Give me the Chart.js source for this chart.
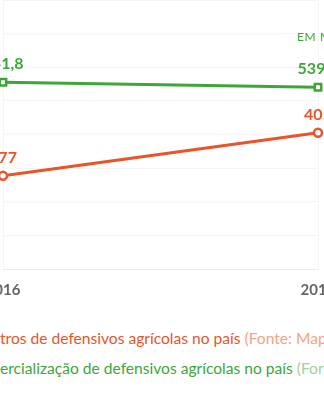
<!DOCTYPE html>
<html>
<head>
<meta charset="utf-8">
<script src="https://cdn.jsdelivr.net/npm/chart.js@4"></script>
<style>
  html, body { margin:0; padding:0; background:#fff; width:324px; height:400px; overflow:hidden; position:relative; }
  #wrap { position:absolute; left:-60px; top:0; width:444px; height:311px; }
  .leg { position:absolute; left:0; white-space:nowrap; font-family:Lato, sans-serif; font-size:15.6px; line-height:18px; }
  .leg .pre { position:absolute; right:100%; top:0; }
  #legReg { top:329px; color:#e8552b; }
  #legReg .src { color:#f4a487; }
  #legCom { top:359px; color:#3da63a; }
  #legCom .src { color:#9ed39a; }
</style>
</head>
<body>
<div id="wrap"><canvas id="c"></canvas></div>
<div class="leg" id="legReg"><span class="pre">Regis</span>tros de defensivos agrícolas no país <span class="src">(Fonte: Mapa)</span></div>
<div class="leg" id="legCom"><span class="pre">Com</span>ercialização de defensivos agrícolas no país <span class="src">(Fonte: Ibama)</span></div>
<script>
const years = ['2016', '2017'];
const registros = [277, 405];
const comercializacao = [541.8, 539.9];
const unitNote = 'EM MIL TONELADAS';

const ORANGE = '#e8552b';
const GREEN = '#3da63a';

function fmt(v) { return String(v).replace('.', ','); }

const valueLabels = {
  id: 'valueLabels',
  afterDatasetsDraw(chart) {
    const ctx = chart.ctx;
    ctx.save();
    ctx.textAlign = 'center';
    ctx.textBaseline = 'middle';
    ctx.font = 'bold 16px Lato, sans-serif';
    chart.data.datasets.forEach((ds, i) => {
      const meta = chart.getDatasetMeta(i);
      ctx.fillStyle = ds.borderColor;
      meta.data.forEach((el, j) => {
        ctx.fillText(fmt(ds.data[j]), el.x, el.y - 18);
      });
    });
    const gm = chart.getDatasetMeta(1);
    const last = gm.data[gm.data.length - 1];
    ctx.textAlign = 'left';
    ctx.font = '12px Lato, sans-serif';
    if ('letterSpacing' in ctx) ctx.letterSpacing = '0.6px';
    ctx.fillStyle = GREEN;
    ctx.fillText(unitNote, last.x - 21, last.y - 50);
    ctx.restore();
  }
};

new Chart(document.getElementById('c'), {
  type: 'line',
  data: {
    labels: years,
    datasets: [
      {
        label: 'Registros',
        data: registros,
        yAxisID: 'yReg',
        borderColor: ORANGE,
        backgroundColor: '#fff',
        borderWidth: 3,
        pointStyle: 'circle',
        pointRadius: 4,
        pointBorderWidth: 2.5,
        pointBackgroundColor: '#fff',
        tension: 0
      },
      {
        label: 'Comercialização',
        data: comercializacao,
        yAxisID: 'yCom',
        borderColor: GREEN,
        backgroundColor: '#fff',
        borderWidth: 3,
        pointStyle: 'rect',
        pointRadius: 4.5,
        pointBorderWidth: 2.5,
        pointBackgroundColor: '#fff',
        tension: 0
      }
    ]
  },
  options: {
    responsive: true,
    maintainAspectRatio: false,
    animation: false,
    layout: { autoPadding: false, padding: { left: 63, right: 66, top: 0, bottom: 0 } },
    plugins: { legend: { display: false }, tooltip: { enabled: false } },
    scales: {
      x: {
        offset: false,
        grid: { color: '#f5f5f5', drawTicks: false },
        border: { display: true, color: '#ededed' },
        ticks: { color: '#666', font: { family: 'Lato', size: 15, weight: 'bold' }, padding: 12, maxRotation: 0 }
      },
      yReg: {
        position: 'left',
        min: 0, max: 800,
        ticks: { display: false, stepSize: 100 },
        grid: { color: '#f5f5f5', drawTicks: false },
        border: { display: false }
      },
      yCom: {
        position: 'right',
        display: false,
        min: 471, max: 573
      }
    }
  },
  plugins: [valueLabels]
});
</script>
</body>
</html>
